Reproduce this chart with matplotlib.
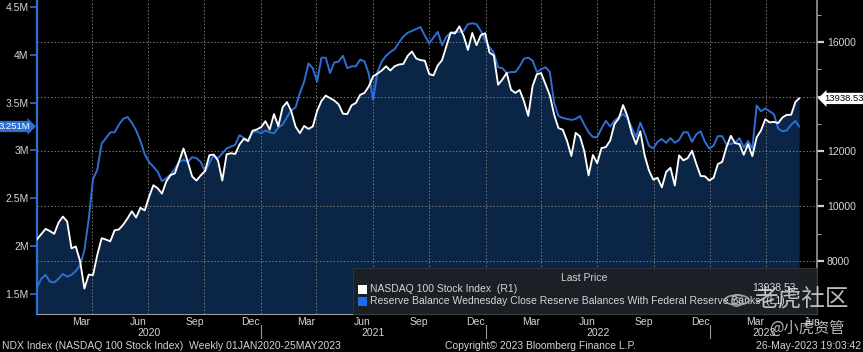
import matplotlib
matplotlib.use("Agg")
import matplotlib.pyplot as plt
import matplotlib.dates as mdates
import matplotlib.transforms as mtrans
from matplotlib.patches import Rectangle, Circle
import pandas as pd
import numpy as np

# ---------------- data ----------------
dates = list(pd.date_range("2020-01-03", "2023-05-19", freq="7D")) + [pd.Timestamp("2023-05-25")]

ndx_2020 = [8793, 8985, 9174, 9093, 8992, 9402, 9623, 9446, 8462, 8530,
            7995, 6994, 7502, 7487, 8230, 8832, 8784, 8718, 9121, 9152,
            9325, 9555, 9814, 9588, 9946, 9849, 10341, 10768, 10657, 10461,
            10905, 11139, 11201, 11655, 12110, 11622, 11087, 10938, 11128, 11292,
            11865, 11885, 11666, 10938, 11895, 11937, 11909, 12258, 12464, 12378,
            12756, 12805, 12888]
ndx_2021 = [13105, 12804, 13366, 12925, 13611, 13807, 13474, 12909, 12669, 12933,
            12823, 12914, 13480, 13845, 14042, 13950, 13860, 13720, 13380, 13368,
            13687, 13773, 14070, 14141, 14381, 14747, 14844, 14960, 15114, 14959,
            15116, 15177, 15197, 15490, 15653, 15397, 15338, 15316, 14832, 14780,
            15146, 15338, 15850, 16345, 16310, 16573, 16225, 15712, 16331, 15885,
            16255, 16320]
ndx_2022 = [15612, 15511, 14438, 14630, 14871, 14254, 14140, 14247, 13838, 13301,
            14392, 14824, 14862, 14458, 14053, 13351, 12855, 12797, 12387, 11835,
            12682, 12549, 12013, 11128, 11871, 11575, 12126, 12160, 12397, 13001,
            13206, 13695, 13292, 12683, 12271, 12739, 11862, 11311, 10971, 11039,
            10692, 11255, 11405, 10757, 11859, 11676, 11758, 12029, 11544, 11103,
            11095, 10940]
ndx_2023 = [11040, 11542, 11619, 12166, 12573, 12305, 12274, 11880, 12269, 11830,
            12520, 12767, 13181, 13063, 13080, 13038, 13246, 13339, 13341, 13813,
            13938.53]
ndx = ndx_2020 + ndx_2021 + ndx_2022 + ndx_2023

res_2020 = [1.57, 1.66, 1.70, 1.63, 1.62, 1.66, 1.71, 1.68, 1.70, 1.74,
            1.80, 1.96, 2.28, 2.70, 2.80, 3.07, 3.13, 3.19, 3.19, 3.27,
            3.33, 3.35, 3.29, 3.21, 3.10, 2.96, 2.88, 2.83, 2.78, 2.68,
            2.71, 2.75, 2.81, 2.88, 2.90, 2.88, 2.93, 2.92, 2.88, 2.78,
            2.87, 2.95, 2.92, 2.97, 3.02, 3.04, 3.06, 3.16, 3.13, 3.11,
            3.19, 3.20, 3.18]
res_2021 = [3.21, 3.19, 3.18, 3.24, 3.27, 3.35, 3.42, 3.45, 3.60, 3.72,
            3.91, 3.86, 3.72, 3.97, 3.97, 3.81, 3.92, 3.93, 3.99, 3.86,
            3.88, 3.88, 3.95, 3.93, 3.80, 3.53, 3.82, 3.93, 3.99, 4.03,
            4.06, 4.13, 4.19, 4.23, 4.25, 4.27, 4.29, 4.20, 4.12, 4.18,
            4.24, 4.10, 4.19, 4.23, 4.24, 4.24, 4.25, 4.32, 4.33, 4.32,
            4.25, 4.15]
res_2022 = [4.08, 4.02, 3.87, 3.86, 3.81, 3.82, 3.82, 3.88, 3.96, 3.97,
            3.94, 3.82, 3.85, 3.87, 3.82, 3.50, 3.36, 3.34, 3.33, 3.32,
            3.33, 3.36, 3.27, 3.19, 3.14, 3.14, 3.23, 3.31, 3.25, 3.31,
            3.35, 3.38, 3.34, 3.24, 3.14, 3.29, 3.18, 3.05, 3.02, 3.09,
            3.12, 3.08, 3.13, 3.08, 3.11, 3.19, 3.19, 3.09, 3.17, 3.20,
            3.09, 3.02]
res_2023 = [3.05, 3.15, 3.15, 3.06, 3.07, 3.08, 3.13, 3.03, 3.10, 3.02,
            3.47, 3.41, 3.44, 3.41, 3.38, 3.23, 3.20, 3.21, 3.27, 3.31,
            3.251]
reserves = res_2020 + res_2021 + res_2022 + res_2023

left_ticks = [1.5, 2.0, 2.5, 3.0, 3.5, 4.0, 4.5]
left_labels = ["1.5M", "2M", "2.5M", "3M", "3.5M", "4M", "4.5M"]
right_ticks = [8000, 10000, 12000, 14000, 16000]
right_labels = ["8000", "10000", "12000", "", "16000"]

ndx_name = "NASDAQ 100 Stock Index  (R1)"
res_name = "Reserve Balance Wednesday Close Reserve Balances With Federal Reserve Banks  (L1)"
last_ndx = "13938.53"
last_res = "3.251M"

# ---------------- style ----------------
W, H = 863, 352
BG = "black"
NAVY = "#0a2546"
BLUE = "#2e6fd6"
TXT = "#d4d4d4"
GRID = "#7a7a7a"
FONT = "Liberation Sans"
plt.rcParams["font.family"] = [FONT, "DejaVu Sans"]

fig = plt.figure(figsize=(W / 100, H / 100), dpi=100, facecolor=BG)
fx = lambda x: x / W
fy = lambda y: 1 - y / H

ax_l = fig.add_axes([fx(37), 1 - 314 / H, (817 - 37) / W, 314 / H])
ax_r = ax_l.twinx()
ax3 = ax_l.twinx()
ax_r.set_zorder(1)
ax_l.set_zorder(2)
ax3.set_zorder(3)
ax_r.patch.set_visible(True)
ax_r.patch.set_facecolor(BG)
ax_l.patch.set_visible(False)
ax3.patch.set_visible(False)

x0, x1 = pd.Timestamp("2020-01-03"), pd.Timestamp("2023-06-23")
yl = (1.291, 4.573)
yr = (6064, 17534)
for a in (ax_l, ax_r, ax3):
    a.set_xlim(x0, x1)
ax_l.set_ylim(*yl)
ax_r.set_ylim(*yr)
ax3.set_ylim(*yr)

# fill + lines
ax_r.fill_between(dates, ndx, yr[0], color=NAVY, lw=0, zorder=1)
ax_l.plot(dates, reserves, color=BLUE, lw=1.4, zorder=3, solid_joinstyle="round")
ax3.plot(dates, ndx, color="white", lw=1.35, zorder=3, solid_joinstyle="round")

# grid
ax_r.set_yticks(right_ticks)
ax_r.set_yticklabels(right_labels)
ax_r.set_yticks(np.arange(9000, 17001, 2000), minor=True)
ax_r.grid(axis="y", which="major", color=GRID, ls=(0, (1.5, 2)), lw=0.7)
for q in pd.date_range("2020-04-01", "2023-04-01", freq="QS"):
    ax_l.axvline(q, color=GRID, ls=(0, (1.5, 2)), lw=0.7, zorder=1.5)

# spines
for a in (ax_l, ax_r, ax3):
    for s in a.spines.values():
        s.set_visible(False)
ax_l.spines["left"].set_visible(True)
ax_l.spines["left"].set_color(BLUE)
ax_l.spines["left"].set_linewidth(1.6)
ax_l.spines["bottom"].set_visible(True)
ax_l.spines["bottom"].set_color("#9a9a9a")
ax_r.spines["right"].set_visible(True)
ax_r.spines["right"].set_color("#9a9a9a")
ax_r.spines["right"].set_linewidth(1.2)

# left axis ticks
ax_l.set_yticks(left_ticks)
ax_l.set_yticklabels(left_labels)
ax_l.tick_params(axis="y", which="major", length=5, width=1.2, color=BLUE,
                 labelcolor=TXT, labelsize=7.5, pad=1)
# right axis ticks
ax_r.tick_params(axis="y", which="major", length=5, width=1.6, color="#cfcfcf",
                 labelcolor=TXT, labelsize=7.5, pad=2)
ax_r.tick_params(axis="y", which="minor", length=3, width=0.8, color="#9a9a9a")
ax3.set_yticks([])

# x axis
ax_l.xaxis.set_major_locator(mdates.MonthLocator())
ax_l.xaxis.set_major_formatter(plt.NullFormatter())
ax_l.xaxis.set_minor_locator(mdates.MonthLocator(bymonth=[3, 6, 9, 12], bymonthday=15))
ax_l.xaxis.set_minor_formatter(mdates.DateFormatter("%b"))
ax_l.tick_params(axis="x", which="major", length=3, width=0.8, color="#9a9a9a")
ax_l.tick_params(axis="x", which="minor", length=0, labelcolor=TXT, labelsize=7.5, pad=2)
ax3.set_xticks([])

bt = mtrans.blended_transform_factory(ax_l.transData, ax_l.transAxes)
for yr_s, y_start, y_end in [("2020", "2020-01-03", "2020-12-31"),
                             ("2021", "2021-01-01", "2021-12-31"),
                             ("2022", "2022-01-01", "2022-12-31"),
                             ("2023", "2023-01-01", "2023-06-23")]:
    s, e = pd.Timestamp(y_start), pd.Timestamp(y_end)
    c = s + (e - s) / 2
    ax_l.text(c, -0.062, yr_s, transform=bt, ha="center", va="center",
              color=TXT, fontsize=7.5, clip_on=False)
for ysep in ["2021-01-01", "2022-01-01", "2023-01-01"]:
    ax_l.plot([pd.Timestamp(ysep)] * 2, [-0.035, -0.078], transform=bt,
              color="#9a9a9a", lw=0.8, clip_on=False)

# last price tags
btl = mtrans.blended_transform_factory(ax_l.transAxes, ax_l.transData)
ax_l.text(-0.009, reserves[-1], last_res, transform=btl, ha="right", va="center",
          color="white", fontsize=6.8, clip_on=False, zorder=10,
          bbox=dict(boxstyle="rarrow,pad=0.12", fc=BLUE, ec="none"))
btr = mtrans.blended_transform_factory(ax_r.transAxes, ax_r.transData)
ax3.text(1.009, ndx[-1], last_ndx, transform=btr, ha="left", va="center",
         color="black", fontsize=6.8, clip_on=False, zorder=10,
         bbox=dict(boxstyle="larrow,pad=0.12", fc="white", ec="none"))

# legend box
lx0 = (353 - 37) / 780
ax3.add_patch(Rectangle((lx0, 0), 1 - lx0, 46 / 314, transform=ax3.transAxes,
                        facecolor="#1d2026", edgecolor="#33363c", lw=0.6,
                        alpha=0.95, zorder=5, clip_on=False))
fig.text(fx(584), fy(278), "Last Price", ha="center", va="center", color=TXT, fontsize=7.5, zorder=20)
fig.patches.append(Rectangle((fx(358), fy(294)), 9 / W, 9 / H, transform=fig.transFigure,
                             facecolor="white", edgecolor="none", zorder=20, figure=fig))
fig.patches.append(Rectangle((fx(358), fy(306)), 9 / W, 9 / H, transform=fig.transFigure,
                             facecolor="#1a6cf0", edgecolor="none", zorder=20, figure=fig))
fig.text(fx(370), fy(289.5), ndx_name, ha="left", va="center", color=TXT, fontsize=7.5, zorder=20)
fig.text(fx(370), fy(301.5), res_name, ha="left", va="center", color=TXT, fontsize=7.5, zorder=20)
fig.text(fx(796), fy(288), last_ndx, ha="right", va="center", color=TXT, fontsize=7.5, zorder=20)

# footer
fig.text(fx(2), fy(346), "NDX Index (NASDAQ 100 Stock Index)  Weekly 01JAN2020-25MAY2023",
         ha="left", va="center", color=TXT, fontsize=7.5)
fig.text(fx(445), fy(346), "Copyright\u00a9 2023 Bloomberg Finance L.P.",
         ha="left", va="center", color=TXT, fontsize=7.5)
fig.text(fx(861), fy(346), "26-May-2023 19:03:42",
         ha="right", va="center", color=TXT, fontsize=7.5)

# watermark
CJK = ["Noto Sans CJK SC", "DejaVu Sans"]
circ = Circle((fx(737), fy(300)), 12 / W, transform=fig.transFigure, fill=False,
              edgecolor="#bdbdbd", lw=1.2, alpha=0.8, zorder=30)
fig.patches.append(circ)
fig.text(fx(737), fy(300), "@", ha="center", va="center", color="#bdbdbd",
         fontsize=10, alpha=0.8, zorder=30)
fig.text(fx(801), fy(300), "老虎社区", ha="center", va="center", color="#dcdcdc",
         fontsize=17, family=CJK, alpha=0.85, zorder=30)
fig.text(fx(807), fy(328), "@小虎资管", ha="center", va="center", color="#dcdcdc",
         fontsize=11, family=CJK, alpha=0.85, zorder=30)

fig.savefig("out.png", dpi=100, facecolor=BG)
